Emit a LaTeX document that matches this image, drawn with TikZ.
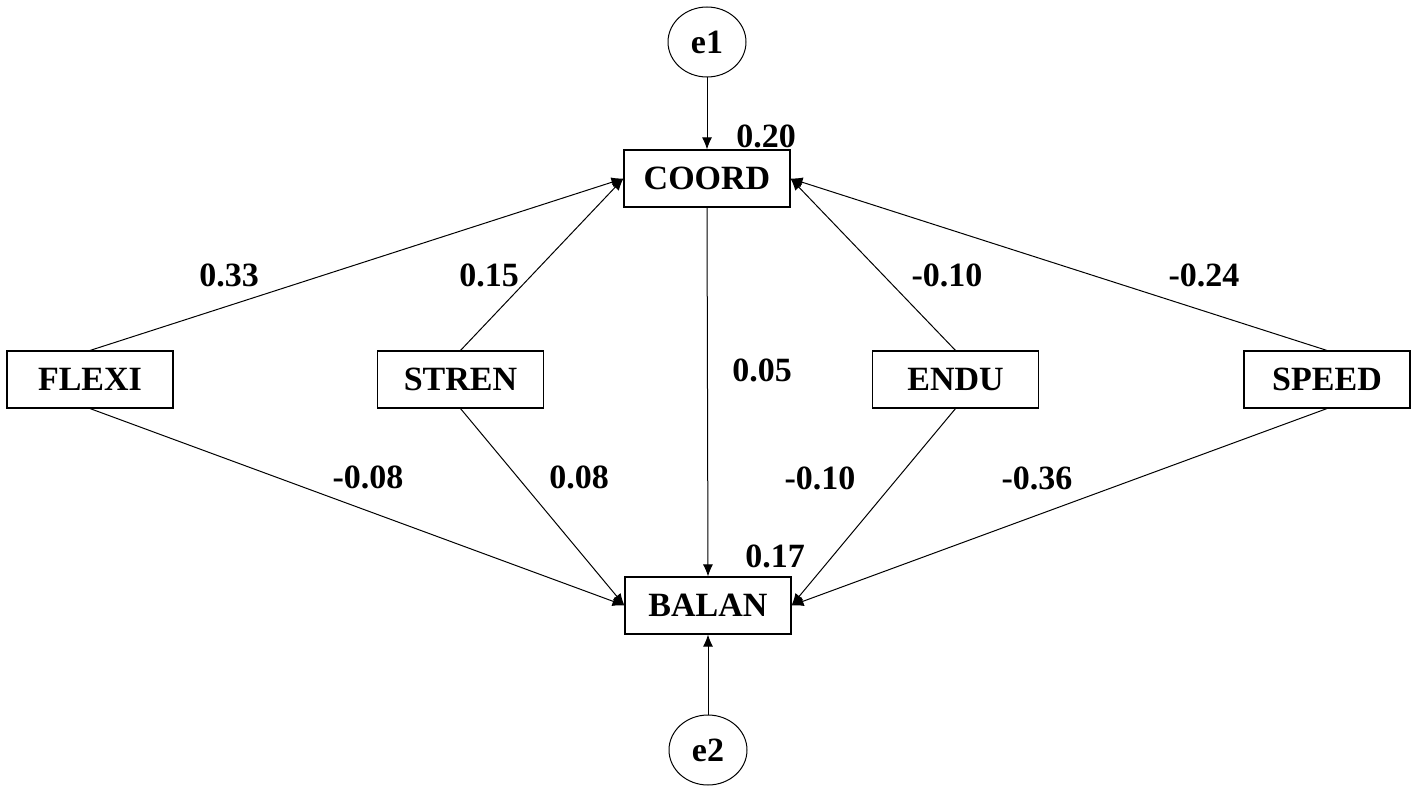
\documentclass[tikz,border=0pt]{standalone}
\usepackage{fontspec}
\setmainfont{Liberation Serif}
\usetikzlibrary{shapes.geometric,arrows.meta}
\begin{document}
\begin{tikzpicture}[x=1pt,y=-1pt,
  every node/.style={font=\fontsize{34}{40}\selectfont\bfseries},
  var/.style={draw,line width=1.1pt,rectangle,minimum width=166pt,minimum height=57pt,inner sep=0pt},
  err/.style={draw,line width=1pt,ellipse,minimum width=78pt,minimum height=70pt,inner sep=0pt},
  path/.style={line width=1pt,-{Latex[length=12pt,width=10pt]}},
  lbl/.style={inner sep=0pt}]
\useasboundingbox (0,0) rectangle (1416,792);
\node[err] (e1) at (707,42) {e1};
\node[err] (e2) at (708,750) {e2};
\node[var] (COORD) at (707,178.5) {COORD};
\node[var] (BALAN) at (708,605.5) {BALAN};
\node[var] (FLEXI) at (90,379.5) {FLEXI};
\node[var] (STREN) at (460.5,379.5) {STREN};
\node[var] (ENDU) at (955.5,379.5) {ENDU};
\node[var] (SPEED) at (1327,379.5) {SPEED};
\draw[path] (e1) -- (COORD);
\draw[path] (e2) -- (BALAN);
\draw[path] (FLEXI.north) -- (COORD.west);
\draw[path] (STREN.north) -- (COORD.west);
\draw[path] (ENDU.north) -- (COORD.east);
\draw[path] (SPEED.north) -- (COORD.east);
\draw[path] (COORD.south) -- (BALAN.north);
\draw[path] (FLEXI.south) -- (BALAN.west);
\draw[path] (STREN.south) -- (BALAN.west);
\draw[path] (ENDU.south) -- (BALAN.east);
\draw[path] (SPEED.south) -- (BALAN.east);
\node[lbl] (l1) at (766,136) {0.20};
\node[lbl] (l2) at (775,556) {0.17};
\node[lbl] (l3) at (229,275) {0.33};
\node[lbl] (l4) at (489,275) {0.15};
\node[lbl] (l5) at (947,275) {-0.10};
\node[lbl] (l6) at (1204,275) {-0.24};
\node[lbl] (l7) at (762,370) {0.05};
\node[lbl] (l8) at (368,477) {-0.08};
\node[lbl] (l9) at (579,477) {0.08};
\node[lbl] (l10) at (820,478) {-0.10};
\node[lbl] (l11) at (1037,478) {-0.36};
\end{tikzpicture}
\end{document}
